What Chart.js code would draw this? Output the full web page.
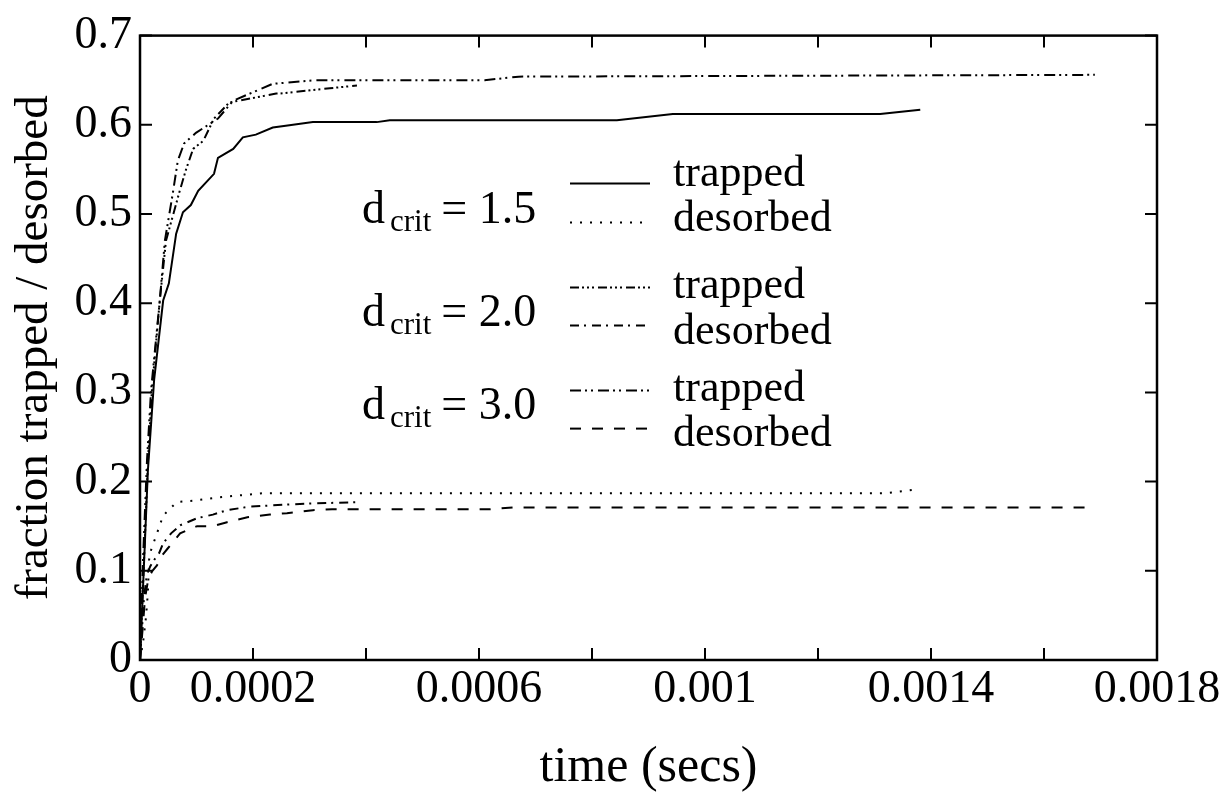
<!DOCTYPE html>
<html lang="en">
<head>
  <meta charset="UTF-8">
  <title>fraction trapped / desorbed</title>
  <style>
    html, body { margin: 0; padding: 0; background: #fff; }
    #wrap { width: 1232px; height: 798px; }
  </style>
</head>
<body>
  <div id="wrap"><canvas id="graf"></canvas></div>
  <script src="https://cdn.jsdelivr.net/npm/chart.js"></script>
  <script>
    // tick labels
    const X_TICK_LABELS = ['0','0.0002','','0.0006','','0.001','','0.0014','','0.0018'];
    const Y_TICK_LABELS = ['0','0.1','0.2','0.3','0.4','0.5','0.6','0.7'];

    // d_crit = 1.5
    const T15_X = [0, 8.8e-6, 1.4e-5, 2.5e-5, 4.1e-5, 5.1e-5, 6.4e-5, 7.6e-5, 9.0e-5, 1.03e-4, 1.31e-4, 1.38e-4, 1.65e-4, 1.82e-4, 2.05e-4, 2.35e-4, 2.58e-4, 3.06e-4, 4.19e-4, 4.42e-4, 8.44e-4, 9.43e-4, 1.31e-3, 1.381e-3];
    const T15_Y = [0, 0.134, 0.213, 0.314, 0.403, 0.422, 0.478, 0.502, 0.510, 0.526, 0.545, 0.563, 0.573, 0.586, 0.589, 0.597, 0.599, 0.603, 0.603, 0.605, 0.605, 0.612, 0.612, 0.617];
    const D15_X = [0, 5.3e-6, 1.06e-5, 1.4e-5, 1.6e-5, 1.95e-5, 3.0e-5, 4.1e-5, 6.5e-5, 1.0e-4, 1.42e-4, 2.18e-4, 1.32e-3, 1.372e-3];
    const D15_Y = [0, 0.019, 0.048, 0.076, 0.112, 0.123, 0.142, 0.162, 0.177, 0.179, 0.1825, 0.187, 0.187, 0.191];

    // d_crit = 2.0
    const T20_X = [0, 7.1e-6, 1.42e-5, 2.1e-5, 3.5e-5, 4.6e-5, 6.9e-5, 8.1e-5, 9.4e-5, 1.12e-4, 1.31e-4, 1.58e-4, 2.41e-4, 2.48e-4, 3.36e-4, 3.84e-4];
    const T20_Y = [0, 0.112, 0.224, 0.302, 0.403, 0.470, 0.523, 0.549, 0.573, 0.582, 0.607, 0.625, 0.635, 0.635, 0.641, 0.644];
    const D20_X = [0, 3e-6, 7e-6, 1.2e-5, 1.8e-5, 2.6e-5, 3.4e-5, 4.1e-5, 5.5e-5, 7.1e-5, 1.01e-4, 1.29e-4, 1.54e-4, 1.95e-4, 2.83e-4, 3.84e-4];
    const D20_Y = [0, 0.03, 0.07, 0.095, 0.105, 0.113, 0.12, 0.131, 0.142, 0.151, 0.159, 0.163, 0.168, 0.172, 0.175, 0.177];

    // d_crit = 3.0
    const T30_X = [0, 5.3e-6, 1.24e-5, 1.95e-5, 3.5e-5, 4.4e-5, 5.8e-5, 6.7e-5, 7.8e-5, 9.9e-5, 1.38e-4, 1.65e-4, 2.35e-4, 3.12e-4, 6.1e-4, 6.7e-4, 1.69e-3];
    const T30_Y = [0, 0.112, 0.224, 0.302, 0.403, 0.470, 0.523, 0.560, 0.579, 0.591, 0.607, 0.627, 0.646, 0.650, 0.650, 0.654, 0.656];
    const D30_X = [0, 4e-6, 9e-6, 1.5e-5, 2.2e-5, 3e-5, 4e-5, 4.9e-5, 7.1e-5, 1.01e-4, 1.29e-4, 1.54e-4, 1.9e-4, 2.3e-4, 2.6e-4, 3.06e-4, 3.4e-4, 6.2e-4, 6.6e-4, 1.69e-3];
    const D30_Y = [0, 0.03, 0.07, 0.092, 0.1, 0.106, 0.118, 0.125, 0.142, 0.15, 0.15, 0.1545, 0.16, 0.163, 0.1646, 0.168, 0.169, 0.169, 0.171, 0.171];

    const D_CRIT = ['1.5', '2.0', '3.0'];
    const SERIES_NAMES = ['trapped', 'desorbed'];

    const SERIF = '"Liberation Serif", "DejaVu Serif", serif';
    const pts = (xs, ys) => xs.map((x, i) => ({x: x, y: ys[i]}));

    // dash styles: solid, dotted, dash-3dot, dash-dot, dash-2dot, dashed
    const DASH = [
      [], [2, 8],
      [9, 3, 2, 3, 2, 3, 2, 4], [9, 5, 2, 6],
      [11, 4, 2, 4, 2, 5], [11, 11]
    ];
    const serie = (xs, ys, k) => ({
      data: pts(xs, ys), borderColor: '#000', borderWidth: 2,
      borderDash: DASH[k], pointRadius: 0, fill: false, tension: 0
    });

    const datasets = [
      serie(T15_X, T15_Y, 0), serie(D15_X, D15_Y, 1),
      serie(T20_X, T20_Y, 2), serie(D20_X, D20_Y, 3),
      serie(T30_X, T30_Y, 4), serie(D30_X, D30_Y, 5)
    ];

    // frame with inward ticks on all four sides
    const framePlugin = {
      id: 'frame',
      afterDraw(chart) {
        const ctx = chart.ctx, a = chart.chartArea;
        const sx = chart.scales.x, sy = chart.scales.y, L = 12;
        ctx.save();
        ctx.strokeStyle = '#000';
        ctx.lineWidth = 2;
        ctx.beginPath();
        sx.ticks.forEach(t => {
          const p = sx.getPixelForValue(t.value);
          ctx.moveTo(p, a.bottom); ctx.lineTo(p, a.bottom - L);
          ctx.moveTo(p, a.top); ctx.lineTo(p, a.top + L);
        });
        sy.ticks.forEach(t => {
          const p = sy.getPixelForValue(t.value);
          ctx.moveTo(a.left, p); ctx.lineTo(a.left + L, p);
          ctx.moveTo(a.right, p); ctx.lineTo(a.right - L, p);
        });
        ctx.stroke();
        ctx.lineWidth = 2.5;
        ctx.strokeRect(a.left, a.top, a.right - a.left, a.bottom - a.top);
        ctx.restore();
      }
    };

    // in-plot legend: d_crit groups with trapped / desorbed samples
    const legendPlugin = {
      id: 'legendCrit',
      afterDraw(chart) {
        const ctx = chart.ctx, a = chart.chartArea;
        const x0 = a.left + 222, lx0 = a.left + 430, lx1 = a.left + 510, tx = a.left + 533;
        // per group: d_crit baseline, sample lines, name baselines (offsets from top)
        const dBase = [187, 290, 383];
        const lineY = [[148, 187], [252, 290], [355, 393]];
        const textY = [[150, 195], [262, 308], [365, 410]];
        ctx.save();
        ctx.fillStyle = '#000';
        ctx.strokeStyle = '#000';
        ctx.textBaseline = 'alphabetic';
        ctx.textAlign = 'left';
        D_CRIT.forEach((v, g) => {
          const yb = a.top + dBase[g];
          ctx.font = '46px ' + SERIF;
          ctx.fillText('d', x0, yb);
          const wd = ctx.measureText('d').width;
          ctx.font = '31px ' + SERIF;
          ctx.fillText('crit', x0 + wd + 5, yb + 8);
          const wc = ctx.measureText('crit').width;
          ctx.font = '46px ' + SERIF;
          ctx.fillText('= ' + v, x0 + wd + wc + 15, yb);
          SERIES_NAMES.forEach((n, j) => {
            const ds = datasets[g * 2 + j];
            const ly = a.top + lineY[g][j];
            ctx.lineWidth = 2;
            ctx.setLineDash(ds.borderDash);
            ctx.beginPath();
            ctx.moveTo(lx0, ly); ctx.lineTo(lx1, ly);
            ctx.stroke();
            ctx.setLineDash([]);
            ctx.font = '44px ' + SERIF;
            ctx.fillText(n, tx, a.top + textY[g][j]);
          });
        });
        ctx.restore();
      }
    };

    new Chart(document.getElementById('graf'), {
      type: 'line',
      data: { datasets: datasets },
      plugins: [framePlugin, legendPlugin],
      options: {
        responsive: true,
        maintainAspectRatio: false,
        animation: false,
        events: [],
        layout: { padding: { top: 35, right: 75, left: 0, bottom: 0 } },
        plugins: { legend: { display: false }, tooltip: { enabled: false } },
        scales: {
          x: {
            type: 'linear', min: 0, max: 0.0018,
            grid: { display: false, drawTicks: false },
            border: { display: false },
            ticks: {
              stepSize: 0.0002, autoSkip: false, maxRotation: 0, padding: 2,
              color: '#000', font: { family: SERIF, size: 46 },
              callback: (v, i) => X_TICK_LABELS[i]
            },
            title: { display: true, text: 'time (secs)', color: '#000',
              font: { family: SERIF, size: 50 }, padding: { top: 0, bottom: 0 } },
            afterFit: s => { s.height = 138; }
          },
          y: {
            type: 'linear', min: 0, max: 0.7,
            grid: { display: false, drawTicks: false },
            border: { display: false },
            ticks: {
              stepSize: 0.1, autoSkip: false, padding: 8,
              color: '#000', font: { family: SERIF, size: 46 },
              callback: (v, i) => Y_TICK_LABELS[i]
            },
            title: { display: true, text: 'fraction trapped / desorbed', color: '#000',
              font: { family: SERIF, size: 47 }, padding: { top: 6, bottom: 0 } },
            afterFit: s => { s.width = 140; }
          }
        }
      }
    });
  </script>
</body>
</html>
